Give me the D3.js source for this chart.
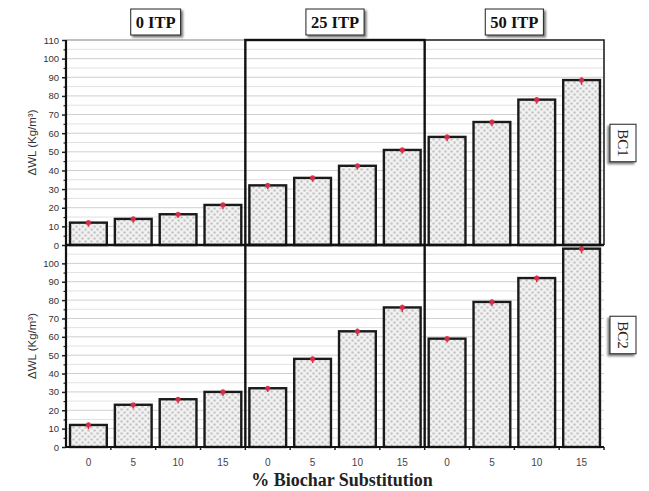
<!DOCTYPE html>
<html><head><meta charset="utf-8">
<script src="https://cdn.jsdelivr.net/npm/d3@7"></script>
<style>body{margin:0;background:#fff}svg{display:block}</style>
</head><body>
<script>
const groups = ["0 ITP", "25 ITP", "50 ITP"];
const substitution = ["0", "5", "10", "15"];
const rows = ["BC1", "BC2"];
const bc1Values = [[12, 14, 16.5, 21.5], [32, 36, 42.5, 51], [58, 66, 78, 88.5]];
const bc2Values = [[12, 23, 26, 30], [32, 48, 63, 76], [59, 79, 92, 108]];
const bc1Err = [[1, 1, 1, 1.2], [1, 1, 1, 1], [1.2, 1.2, 1.2, 1.5]];
const bc2Err = [[1.2, 1, 1.2, 1.2], [1, 1.2, 1.5, 1.5], [1, 1.2, 1.2, 1.5]];
const yTicksTop = [0,10,20,30,40,50,60,70,80,90,100,110];
const yTicksBottom = [0,10,20,30,40,50,60,70,80,90,100];
const yLabel = "ΔWL (Kg/m³)";
const xTitle = "% Biochar Substitution";

(function(){
const W = 649, H = 491;
const svg = d3.select("body").append("svg").attr("width", W).attr("height", H);
const defs = svg.append("defs");
const pat = defs.append("pattern").attr("id","hatch").attr("patternUnits","userSpaceOnUse")
  .attr("width",6).attr("height",6);
pat.append("rect").attr("width",6).attr("height",6).attr("fill","#f1f1f1");
pat.append("circle").attr("cx",1.5).attr("cy",1.5).attr("r",1.25).attr("fill","#c6c6c6");
pat.append("circle").attr("cx",4.5).attr("cy",4.5).attr("r",1.25).attr("fill","#c6c6c6");
const sh = defs.append("filter").attr("id","shadow").attr("x","-20%").attr("y","-20%").attr("width","150%").attr("height","150%");
sh.append("feDropShadow").attr("dx",2).attr("dy",2).attr("stdDeviation",0.8).attr("flood-color","#555").attr("flood-opacity",0.8);

const pLeft = 66, pRight = 604, pTop = 40, pMid = 245, pBottom = 447;
const xOuter = d3.scaleBand().domain(groups).range([pLeft, pRight]);
const yScales = [
  d3.scaleLinear().domain([0,110]).range([pMid, pTop]),
  d3.scaleLinear().domain([0,110]).range([pBottom, pMid])
];
const values = [bc1Values, bc2Values];
const errs = [bc1Err, bc2Err];

// gridlines
yScales.forEach((y, r) => {
  const g = svg.append("g");
  d3.range(5, 111, 5).forEach(v => {
    if (r === 1 && v === 110) return;
    g.append("line").attr("x1", pLeft).attr("x2", pRight)
      .attr("y1", y(v)).attr("y2", y(v))
      .attr("stroke", v % 10 === 0 ? "#cfcfcf" : "#e2e2e2").attr("stroke-width", 1);
  });
});

// bars
yScales.forEach((y, r) => {
  groups.forEach((grp, gi) => {
    const xIn = d3.scaleBand().domain(substitution)
      .range([xOuter(grp), xOuter(grp) + xOuter.bandwidth()])
      .paddingInner(0.18).paddingOuter(0.09);
    const g = svg.append("g");
    substitution.forEach((s, si) => {
      const v = values[r][gi][si];
      g.append("rect").attr("x", xIn(s)).attr("y", y(v))
        .attr("width", xIn.bandwidth()).attr("height", y(0) - y(v))
        .attr("fill", "url(#hatch)").attr("stroke", "#1a1a1a").attr("stroke-width", 2.4);
    });
    substitution.forEach((s, si) => {
      const v = values[r][gi][si], e = errs[r][gi][si];
      const cx = xIn(s) + xIn.bandwidth() / 2;
      g.append("line").attr("x1", cx).attr("x2", cx).attr("y1", y(v + e)).attr("y2", y(v - e) + 2)
        .attr("stroke", "#d8304a").attr("stroke-width", 1.5);
      g.append("circle").attr("cx", cx).attr("cy", y(v)).attr("r", 2.6).attr("fill", "#d8304a").attr("opacity", 0.9);
    });
    if (r === 1) {
      const ax = svg.append("g");
      const step = xIn.step();
      substitution.forEach((s, si) => {
        const bx = xIn(s) + xIn.bandwidth() + (step - xIn.bandwidth()) / 2;
        ax.append("line").attr("x1", bx).attr("x2", bx).attr("y1", pBottom).attr("y2", pBottom + 3)
          .attr("stroke", "#222").attr("stroke-width", 1.5);
        ax.append("text").attr("x", xIn(s) + xIn.bandwidth() / 2).attr("y", pBottom + 19)
          .attr("text-anchor", "middle").attr("font-family", "Arial, 'Liberation Sans', sans-serif")
          .attr("font-size", 10).attr("fill", "#444").text(s);
      });
    }
  });
});

// panel borders
const x25 = xOuter("25 ITP"), x50 = xOuter("50 ITP");
svg.append("line").attr("x1", pLeft).attr("x2", x25).attr("y1", pTop).attr("y2", pTop).attr("stroke", "#999").attr("stroke-width", 1);
svg.append("rect").attr("x", x25).attr("y", pTop).attr("width", xOuter.bandwidth()).attr("height", pMid - pTop)
  .attr("fill", "none").attr("stroke", "#111").attr("stroke-width", 2.4);
svg.append("path").attr("d", `M${x50},${pTop}H${pRight}V${pMid}`).attr("fill", "none").attr("stroke", "#222").attr("stroke-width", 1.6);
svg.append("line").attr("x1", pLeft).attr("x2", pRight).attr("y1", pMid).attr("y2", pMid).attr("stroke", "#111").attr("stroke-width", 2.4);
[x25, x50].forEach(x => svg.append("line").attr("x1", x).attr("x2", x).attr("y1", pMid).attr("y2", pBottom).attr("stroke", "#111").attr("stroke-width", 2.4));
svg.append("line").attr("x1", pLeft).attr("x2", pRight).attr("y1", pBottom).attr("y2", pBottom).attr("stroke", "#111").attr("stroke-width", 2.2);

// y axes
const yTickSets = [yTicksTop, yTicksBottom];
yScales.forEach((y, r) => {
  const ax = svg.append("g").attr("transform", `translate(${pLeft},0)`)
    .call(d3.axisLeft(y).tickValues(yTickSets[r]).tickSize(4).tickPadding(3));
  ax.select(".domain").remove();
  ax.selectAll(".tick line").attr("stroke", "#222").attr("stroke-width", 1.5);
  ax.selectAll(".tick text").attr("font-family", "Arial, 'Liberation Sans', sans-serif").attr("font-size", 9.5).attr("fill", "#333");
  const minor = svg.append("g").attr("transform", `translate(${pLeft},0)`)
    .call(d3.axisLeft(y).tickValues(d3.range(5, r === 0 ? 110 : 105, 10)).tickSize(2.5).tickFormat(""));
  minor.select(".domain").remove();
  minor.selectAll(".tick line").attr("stroke", "#222").attr("stroke-width", 1.2);
  svg.append("text").attr("transform", `translate(36,${(y.range()[0] + y.range()[1]) / 2}) rotate(-90)`)
    .attr("text-anchor", "middle").attr("font-family", "Arial, 'Liberation Sans', sans-serif")
    .attr("font-size", 11.5).attr("fill", "#333").text(yLabel);
});
svg.append("line").attr("x1", pLeft).attr("x2", pLeft).attr("y1", pTop).attr("y2", pBottom).attr("stroke", "#111").attr("stroke-width", 2.2);

// header boxes
groups.forEach(grp => {
  const cx = xOuter(grp) + xOuter.bandwidth() / 2;
  const g = svg.append("g");
  const t = g.append("text").attr("x", cx).attr("y", 28).attr("text-anchor", "middle")
    .attr("font-family", "'Liberation Serif', 'Times New Roman', serif").attr("font-weight", "bold")
    .attr("font-size", 16.5).attr("fill", "#111").text(grp);
  const bb = t.node().getBBox();
  g.insert("rect", "text").attr("x", bb.x - 5).attr("y", 9).attr("width", bb.width + 10).attr("height", 26)
    .attr("fill", "#fff").attr("stroke", "#222").attr("stroke-width", 1).attr("filter", "url(#shadow)");
});

// row labels
const rowCenters = [143, 335];
rows.forEach((lab, i) => {
  const g = svg.append("g").attr("transform", `translate(623,${rowCenters[i]}) rotate(90)`);
  const t = g.append("text").attr("x", 0).attr("y", 5).attr("text-anchor", "middle")
    .attr("font-family", "'Liberation Serif', 'Times New Roman', serif")
    .attr("font-size", 15).attr("fill", "#222").text(lab);
  const bb = t.node().getBBox();
  g.insert("rect", "text").attr("x", bb.x - 5).attr("y", -13).attr("width", bb.width + 10).attr("height", 26)
    .attr("fill", "#fff").attr("stroke", "#222").attr("stroke-width", 1).attr("filter", "url(#shadow)");
});

// x title
svg.append("text").attr("x", 342).attr("y", 486).attr("text-anchor", "middle")
  .attr("font-family", "'Liberation Serif', 'Times New Roman', serif").attr("font-weight", "bold")
  .attr("font-size", 18).attr("fill", "#222").text(xTitle);
})();
</script>
</body></html>
